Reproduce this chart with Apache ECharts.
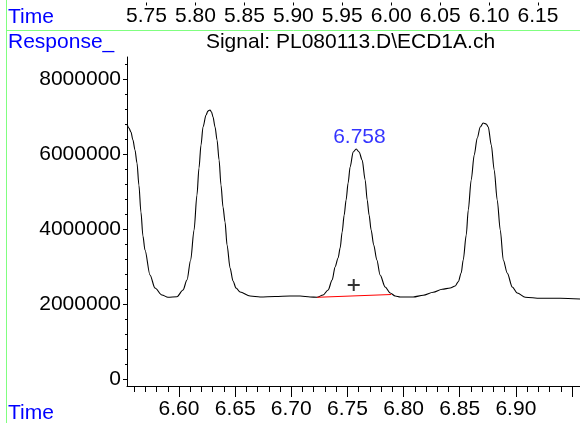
<!DOCTYPE html>
<html><head><meta charset="utf-8">
<script src="https://cdn.jsdelivr.net/npm/echarts@6/dist/echarts.min.js"></script>
<style>html,body{margin:0;padding:0;background:#fff}#c{width:580px;height:423px}</style>
</head><body><div id="c"></div>
<script>
// Chromatogram trace (retention time in min, detector response)
const times = [6.5537,6.5554,6.5572,6.5590,6.5608,6.5626,6.5643,6.5661,6.5679,6.5697,6.5742,6.5786,6.5848,6.5902,6.5982,6.6036,6.6071,6.6104,6.6134,6.6160,6.6178,6.6196,6.6214,6.6241,6.6258,6.6276,6.6290,6.6303,6.6321,6.6339,6.6357,6.6374,6.6392,6.6410,6.6428,6.6455,6.6481,6.6508,6.6544,6.6633,6.6722,6.6856,6.6989,6.7078,6.7168,6.7230,6.7283,6.7328,6.7364,6.7390,6.7417,6.7435,6.7453,6.7471,6.7488,6.7506,6.7524,6.7551,6.7578,6.7604,6.7631,6.7658,6.7676,6.7693,6.7711,6.7734,6.7762,6.7791,6.7836,6.7881,6.7925,6.7970,6.8086,6.8175,6.8264,6.8344,6.8415,6.8460,6.8487,6.8513,6.8531,6.8558,6.8576,6.8602,6.8629,6.8656,6.8683,6.8709,6.8736,6.8754,6.8781,6.8807,6.8834,6.8861,6.8888,6.8923,6.8968,6.9012,6.9084,6.9217,6.9396,6.9574];
const responses = [6800000,6693000,6587000,6373000,6107000,5760000,5173000,4453000,3813000,3440000,2773000,2427000,2240000,2179000,2195000,2373000,2640000,3173000,3973000,4907000,5627000,6240000,6720000,7040000,7147000,7173000,7120000,6987000,6720000,6373000,5840000,5173000,4587000,4187000,3573000,2960000,2613000,2427000,2320000,2213000,2187000,2200000,2213000,2213000,2187000,2179000,2240000,2373000,2640000,2987000,3227000,3493000,3920000,4373000,4773000,5227000,5653000,6053000,6133000,6053000,5840000,5307000,4773000,4373000,3973000,3573000,3173000,2773000,2453000,2293000,2213000,2187000,2187000,2232000,2312000,2392000,2427000,2480000,2595000,2827000,3173000,3840000,4507000,5307000,5973000,6427000,6720000,6827000,6800000,6720000,6240000,5573000,4773000,3973000,3173000,2827000,2453000,2293000,2179000,2152000,2152000,2133000];
// integration baseline of the labelled peak
const baselineTimes = [6.7230, 6.7890];
const baselineResponses = [2179000, 2253000];
// "+" marker
const markTimes = [6.7556];
const markResponses = [2507000];
// peak apex label
const peakTimes = [6.758];
const peakResponses = [6133000];
const peakLabels = ['6.758'];
// axis ticks / labels
const xLabelValues = [6.60,6.65,6.70,6.75,6.80,6.85,6.90];
const xMajorTicks = [6.60,6.65,6.70,6.75,6.80,6.85,6.90,6.95];
const xMinorTicks = [6.56,6.57,6.58,6.59,6.61,6.62,6.63,6.64,6.66,6.67,6.68,6.69,6.71,6.72,6.73,6.74,6.76,6.77,6.78,6.79,6.81,6.82,6.83,6.84,6.86,6.87,6.88,6.89,6.91,6.92,6.93,6.94];
const yLabelValues = [0,2000000,4000000,6000000,8000000];
const yMinorTicks = [400000,800000,1200000,1600000,2400000,2800000,3200000,3600000,4400000,4800000,5200000,5600000,6400000,6800000,7200000,7600000,8400000];
const topTickLabels = [5.75,5.80,5.85,5.90,5.95,6.00,6.05,6.10,6.15];

const FONT = '"Liberation Sans", Arial, sans-serif';
const FS = 21;
const BLUE = '#0000ff';
const GREEN = '#80ff80';

const chart = echarts.init(document.getElementById('c'), null, {renderer: 'canvas'});
const xMin = 6.5537, xMax = 6.9571;
const yMin = -187000, yMax = 8587000;

chart.setOption({
  animation: false,
  backgroundColor: '#fff',
  textStyle: {fontFamily: FONT},
  grid: [
    {left: 97.56, right: 0, top: -10, height: 10, containLabel: false},
    {left: 127, right: 0, top: 57, bottom: 37, containLabel: false}
  ],
  xAxis: [
    {type: 'value', gridIndex: 0, position: 'bottom', min: 5.70, max: 6.1929,
      axisLine: {show: false}, splitLine: {show: false},
      axisTick: {show: true, customValues: topTickLabels, length: 3, lineStyle: {color: '#000'}},
      axisLabel: {show: true, customValues: topTickLabels, margin: 3, color: '#000', fontSize: FS, fontFamily: FONT,
        formatter: v => v.toFixed(2)}},
    {type: 'value', gridIndex: 1, position: 'bottom', min: xMin, max: xMax,
      axisLine: {show: true, onZero: false, lineStyle: {color: '#000', width: 1}},
      splitLine: {show: false},
      axisTick: {show: true, customValues: xMajorTicks, length: 11, lineStyle: {color: '#000'}},
      axisLabel: {show: true, customValues: xLabelValues, margin: 13, color: '#000', fontSize: FS, fontFamily: FONT,
        formatter: v => v.toFixed(2)}},
    {type: 'value', gridIndex: 1, position: 'bottom', min: xMin, max: xMax,
      axisLine: {show: false, onZero: false}, splitLine: {show: false},
      axisTick: {show: true, customValues: xMinorTicks, length: 6, lineStyle: {color: '#000'}},
      axisLabel: {show: false}}
  ],
  yAxis: [
    {type: 'value', gridIndex: 0, show: false, min: 0, max: 1},
    {type: 'value', gridIndex: 1, position: 'left', min: yMin, max: yMax,
      axisLine: {show: true, onZero: false, lineStyle: {color: '#000', width: 1}},
      splitLine: {show: false},
      axisTick: {show: true, customValues: yLabelValues, length: 4, lineStyle: {color: '#000'}},
      axisLabel: {show: true, customValues: yLabelValues, margin: 6, color: '#000', fontSize: FS, fontFamily: FONT,
        formatter: v => String(Math.round(v))}},
    {type: 'value', gridIndex: 1, position: 'left', min: yMin, max: yMax,
      axisLine: {show: false, onZero: false}, splitLine: {show: false},
      axisTick: {show: true, customValues: yMinorTicks, length: 2, lineStyle: {color: '#000'}},
      axisLabel: {show: false}}
  ],
  series: [
    {type: 'line', xAxisIndex: 1, yAxisIndex: 1, data: times.map((t, i) => [t, responses[i]]),
      showSymbol: false, symbol: 'none', smooth: 0.3, smoothMonotone: 'x',
      lineStyle: {color: '#000', width: 1.1}, silent: true},
    {type: 'line', xAxisIndex: 1, yAxisIndex: 1, data: baselineTimes.map((t, i) => [t, baselineResponses[i]]),
      showSymbol: false, symbol: 'none', lineStyle: {color: '#ff0000', width: 1}, silent: true},
    {type: 'scatter', xAxisIndex: 1, yAxisIndex: 1, data: markTimes.map((t, i) => [t, markResponses[i]]),
      symbol: 'path://M5,0h2v5h5v2h-5v5h-2v-5h-5v-2h5z', symbolSize: 12,
      itemStyle: {color: '#000'}, silent: true},
    {type: 'scatter', xAxisIndex: 1, yAxisIndex: 1, data: peakTimes.map((t, i) => [t, peakResponses[i]]),
      symbolSize: 0, silent: true,
      label: {show: true, position: 'top', distance: 1, offset: [3, 0], color: BLUE, fontSize: FS, fontFamily: FONT,
        formatter: p => peakLabels[p.dataIndex]}}
  ],
  graphic: [
    {type: 'line', shape: {x1: 6.5, y1: 0, x2: 6.5, y2: 423}, style: {stroke: GREEN, lineWidth: 1}, silent: true},
    {type: 'line', shape: {x1: 7, y1: 30.5, x2: 580, y2: 30.5}, style: {stroke: GREEN, lineWidth: 1}, silent: true},
    {type: 'text', x: 8, y: 17.5, style: {text: 'Time', fill: BLUE, font: FS + 'px ' + FONT, align: 'left', verticalAlign: 'middle', textAlign: 'left', textVerticalAlign: 'middle'}},
    {type: 'text', x: 8, y: 42, style: {text: 'Response_', fill: BLUE, font: FS + 'px ' + FONT, align: 'left', verticalAlign: 'middle', textAlign: 'left', textVerticalAlign: 'middle'}},
    {type: 'text', x: 350.5, y: 42, style: {text: 'Signal: PL080113.D\\ECD1A.ch', fill: '#000', font: FS + 'px ' + FONT, align: 'center', verticalAlign: 'middle', textAlign: 'center', textVerticalAlign: 'middle'}},
    {type: 'text', x: 8, y: 413.5, style: {text: 'Time', fill: BLUE, font: FS + 'px ' + FONT, align: 'left', verticalAlign: 'middle', textAlign: 'left', textVerticalAlign: 'middle'}}
  ]
});
</script>
</body></html>
